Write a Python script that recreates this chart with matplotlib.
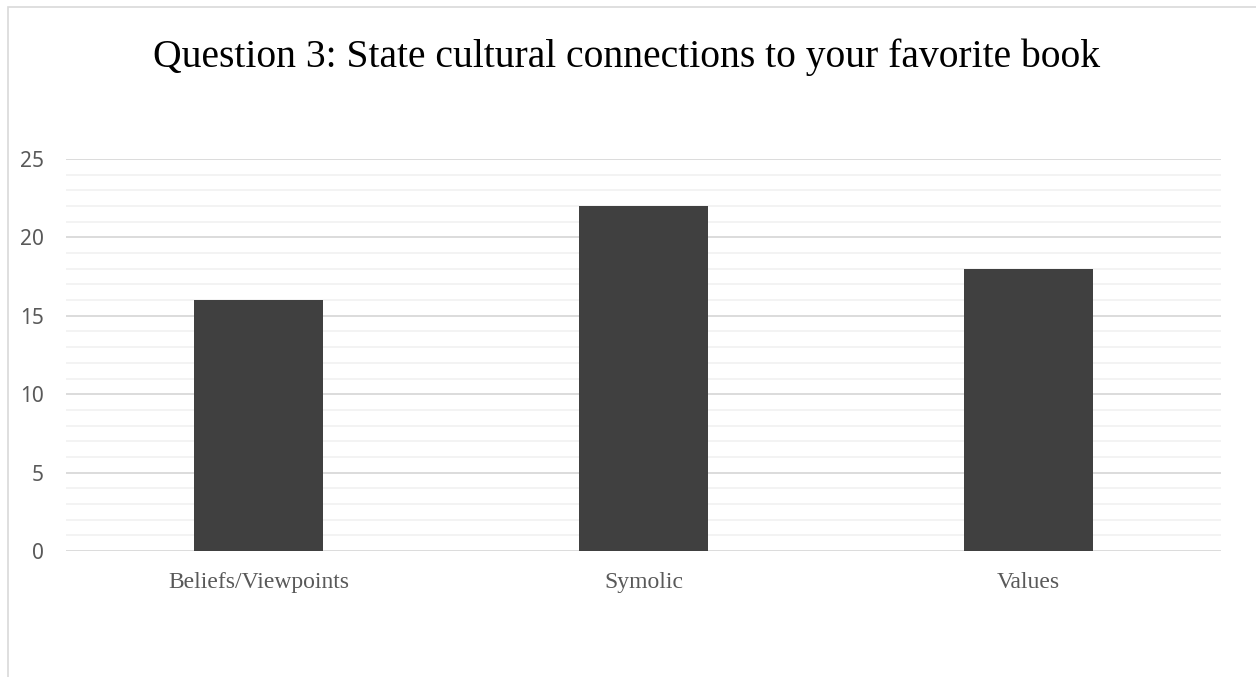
import matplotlib.pyplot as plt
from matplotlib.patches import Rectangle
from matplotlib.ticker import MultipleLocator

# survey answers
categories = ["Beliefs/Viewpoints", "Symolic", "Values"]
counts = [16, 22, 18]
yticks = [0, 5, 10, 15, 20, 25]

W, H = 1256, 677
fig = plt.figure(figsize=(W / 100, H / 100), dpi=100)

# light chart frame, cut off at the right and bottom
fig.patches.append(Rectangle((8 / W, -0.1), 1.5, 1 - 7 / H + 0.1,
                             transform=fig.transFigure, fill=False,
                             edgecolor="#d9d9d9", linewidth=1.2))

ax = fig.add_axes([66 / W, 1 - 551 / H, (1221 - 66) / W, (551 - 159) / H])
ax.bar(range(len(categories)), counts, width=0.333, color="#404040", zorder=3)

ax.set_xlim(-0.5, len(categories) - 0.5)
ax.set_ylim(0, 25)
ax.set_yticks(yticks)
ax.yaxis.set_minor_locator(MultipleLocator(1))
ax.grid(axis="y", which="major", color="#d9d9d9", linewidth=1.3, zorder=0)
ax.grid(axis="y", which="minor", color="#f2f2f2", linewidth=1.3, zorder=0)
for s in ax.spines.values():
    s.set_visible(False)
ax.tick_params(which="both", length=0)

ax.set_xticks(range(len(categories)))
ax.set_xticklabels(categories, family="Liberation Serif", fontsize=17,
                   color="#595959")
ax.tick_params(axis="x", pad=15)
ax.set_yticklabels([str(t) for t in yticks], family="Noto Sans", fontsize=15,
                   color="#595959")
ax.tick_params(axis="y", pad=16)

fig.text(627 / W, 1 - 57 / H,
         "Question 3: State cultural connections to your favorite book",
         family="Liberation Serif", fontsize=28.5, ha="center", va="center",
         color="#000000")

fig.savefig("out.png", dpi=100)
